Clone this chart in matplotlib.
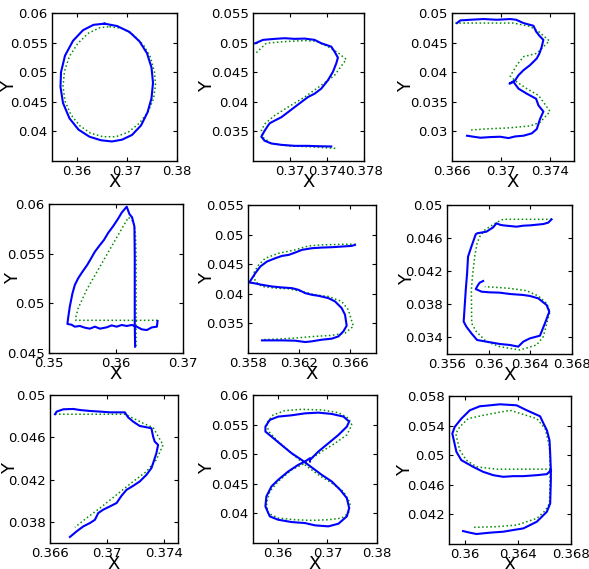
import matplotlib
matplotlib.use('Agg')
import matplotlib.pyplot as plt

# pen trajectories (blue) and fitted templates (green) for each digit

zero_x = [0.3655, 0.3680, 0.3705, 0.3725, 0.3740, 0.3749, 0.3752, 0.3749, 0.3741, 0.3728, 0.3710, 0.3690,
          0.3670, 0.3648, 0.3625, 0.3603, 0.3585, 0.3572, 0.3567, 0.3568, 0.3576, 0.3592, 0.3612, 0.3633, 0.3655]
zero_y = [0.0582, 0.0578, 0.0568, 0.0552, 0.0532, 0.0508, 0.0482, 0.0456, 0.0432, 0.0410, 0.0394, 0.0386,
          0.0383, 0.0385, 0.0391, 0.0403, 0.0422, 0.0448, 0.0475, 0.0500, 0.0528, 0.0553, 0.0571, 0.0580, 0.0582]
zero_fit_x = [0.3665, 0.3690, 0.3713, 0.3733, 0.3747, 0.3755, 0.3757, 0.3753, 0.3742, 0.3725, 0.3703, 0.3678,
              0.3652, 0.3627, 0.3605, 0.3588, 0.3576, 0.3572, 0.3575, 0.3585, 0.3602, 0.3623, 0.3645, 0.3665]
zero_fit_y = [0.0577, 0.0574, 0.0563, 0.0546, 0.0525, 0.0500, 0.0478, 0.0455, 0.0433, 0.0414, 0.0399, 0.0391,
              0.0391, 0.0397, 0.0410, 0.0428, 0.0451, 0.0476, 0.0502, 0.0527, 0.0549, 0.0566, 0.0575, 0.0577]

two_x = [0.36625, 0.36708, 0.36834, 0.36942, 0.3705, 0.37158, 0.37266, 0.37338, 0.37446, 0.37482, 0.37518,
         0.3750, 0.37464, 0.3741, 0.37338, 0.37266, 0.37194, 0.37122, 0.3705, 0.36978, 0.36906, 0.36834,
         0.3678, 0.36762, 0.36726, 0.3669, 0.36726, 0.36798, 0.36906, 0.3705, 0.37194, 0.37302, 0.37446]
two_y = [0.04989, 0.05046, 0.05063, 0.05074, 0.05063, 0.05068, 0.05046, 0.04989, 0.04932, 0.04847, 0.04745,
         0.04648, 0.04506, 0.04364, 0.04222, 0.04137, 0.0408, 0.03995, 0.0391, 0.03824, 0.03739, 0.03682,
         0.03637, 0.03597, 0.03512, 0.0341, 0.03342, 0.03296, 0.03273, 0.03256, 0.03256, 0.0325, 0.03245]
two_fit_x = [0.36636, 0.36744, 0.36942, 0.37158, 0.37284, 0.3741, 0.37518, 0.37608, 0.37482, 0.37338,
             0.37158, 0.36978, 0.36834, 0.36726, 0.3669, 0.36708, 0.36798, 0.36978, 0.3723, 0.37518]
two_fit_y = [0.0483, 0.04989, 0.05017, 0.05034, 0.05023, 0.04932, 0.0483, 0.04716, 0.04449, 0.04279,
             0.0408, 0.0391, 0.03768, 0.03626, 0.03512, 0.03398, 0.03296, 0.03256, 0.03239, 0.03211]

three_x = [0.36641, 0.36668, 0.3675, 0.36859, 0.36968, 0.37077, 0.37126, 0.37186, 0.37268, 0.37289, 0.37317,
           0.37349, 0.37336, 0.37317, 0.37295, 0.3724, 0.37186, 0.37145, 0.37118, 0.37071, 0.37104, 0.37145,
           0.37213, 0.37289, 0.37309, 0.37349, 0.37322, 0.37295, 0.37254, 0.37186, 0.37118, 0.37063, 0.36995,
           0.36913, 0.36832, 0.36777, 0.36723]
three_y = [0.0483, 0.04875, 0.04886, 0.04898, 0.04886, 0.04898, 0.04886, 0.0483, 0.04784, 0.04688, 0.04614,
           0.04546, 0.04432, 0.04318, 0.04233, 0.0412, 0.04034, 0.03949, 0.03864, 0.03807, 0.03836, 0.03722,
           0.03637, 0.03552, 0.03438, 0.03336, 0.03211, 0.0304, 0.02967, 0.02927, 0.02915, 0.02887, 0.0291,
           0.02904, 0.02893, 0.0291, 0.02927]
three_fit_x = [0.36627, 0.36777, 0.37104, 0.3724, 0.37309, 0.37398, 0.37295, 0.37186, 0.37131, 0.37077,
               0.37131, 0.37213, 0.37309, 0.37349, 0.37404, 0.37322, 0.3724, 0.3705, 0.36913, 0.3675]
three_fit_y = [0.0483, 0.0483, 0.0483, 0.04773, 0.04688, 0.04529, 0.04318, 0.04262, 0.0412, 0.03932,
               0.03836, 0.03722, 0.03608, 0.03495, 0.03336, 0.03154, 0.03092, 0.03057, 0.03046, 0.03023]

four_x = [0.3662, 0.3661, 0.36535, 0.3646, 0.36385, 0.3631, 0.36235, 0.3616, 0.36085, 0.3601, 0.35935,
          0.3586, 0.3576, 0.35685, 0.3561, 0.35535, 0.3546, 0.35385, 0.35335, 0.35275,
          0.35285, 0.3531, 0.3535, 0.35385, 0.35435, 0.355, 0.3557, 0.3562, 0.35685, 0.3576, 0.3582,
          0.35885, 0.3596, 0.36035, 0.36085, 0.3616, 0.362, 0.3624, 0.36275, 0.3628, 0.3628, 0.3628, 0.36285]
four_y = [0.04822, 0.04765, 0.04758, 0.04731, 0.04738, 0.04765, 0.04782, 0.04772, 0.04782, 0.04765, 0.04778,
          0.04758, 0.04745, 0.04765, 0.04745, 0.04755, 0.04772, 0.04765, 0.04785, 0.04792,
          0.04849, 0.04966, 0.051, 0.05184, 0.05252, 0.05319, 0.05386, 0.05443, 0.0552, 0.05587, 0.05638,
          0.05711, 0.05779, 0.05856, 0.05913, 0.05973, 0.05899, 0.05866, 0.05772, 0.0547, 0.05134, 0.04799, 0.04564]
four_fit_x = [0.3662, 0.3601, 0.354, 0.354, 0.35435, 0.3556, 0.3576, 0.3596, 0.36185, 0.3626, 0.3629,
              0.363, 0.363, 0.363]
four_fit_y = [0.04829, 0.04829, 0.04829, 0.04859, 0.0495, 0.05134, 0.05369, 0.05604, 0.05866, 0.05822,
              0.05705, 0.0547, 0.05034, 0.04564]

five_x = [0.36636, 0.3661, 0.36532, 0.36454, 0.36377, 0.36299, 0.36221, 0.36169, 0.36117, 0.36065, 0.36013,
          0.35948, 0.35896, 0.35857, 0.3581, 0.35844, 0.35909, 0.35987, 0.36065, 0.36143, 0.36195, 0.36247,
          0.36299, 0.36351, 0.36428, 0.3648, 0.36532, 0.36558, 0.36571, 0.36545, 0.36506, 0.36454, 0.36377,
          0.36299, 0.36247, 0.36169, 0.36065, 0.35987, 0.35909]
five_y = [0.04826, 0.04809, 0.04798, 0.04787, 0.04781, 0.0477, 0.04742, 0.04697, 0.04657, 0.0464, 0.04601,
          0.04545, 0.04461, 0.04348, 0.04191, 0.0418, 0.04152, 0.04124, 0.04107, 0.04096, 0.04067, 0.04011,
          0.03983, 0.03966, 0.03927, 0.03871, 0.03758, 0.03646, 0.03461, 0.03365, 0.0328, 0.03242, 0.03225,
          0.03197, 0.03185, 0.03208, 0.03213, 0.03213, 0.03213]
five_fit_x = [0.36641, 0.36532, 0.36377, 0.36273, 0.36169, 0.36039, 0.35935, 0.35883, 0.35844, 0.35857,
              0.35909, 0.36013, 0.36117, 0.36221, 0.36325, 0.36428, 0.36532, 0.36584, 0.36623, 0.36558,
              0.36454, 0.36325, 0.36169, 0.36039, 0.35909]
five_fit_y = [0.04837, 0.04837, 0.04826, 0.04809, 0.04742, 0.04685, 0.04601, 0.04489, 0.04348, 0.04208,
              0.04124, 0.04096, 0.04084, 0.04039, 0.03983, 0.03955, 0.03871, 0.0373, 0.0345, 0.03337,
              0.03298, 0.03281, 0.03253, 0.03236, 0.03225]

six_x = [0.36604, 0.36572, 0.36524, 0.3646, 0.36396, 0.36332, 0.36267, 0.36203, 0.36139, 0.36107, 0.36075,
         0.36043, 0.35979, 0.35889, 0.35876, 0.35834, 0.35802, 0.35793, 0.3578, 0.3576, 0.35786, 0.35834,
         0.35889, 0.35979, 0.36107, 0.36203, 0.36284, 0.36332, 0.36396, 0.36492, 0.3654, 0.36582, 0.36556,
         0.36476, 0.36396, 0.36332, 0.36203, 0.36107, 0.36011, 0.35931, 0.35876, 0.35898, 0.35914, 0.35947]
six_y = [0.04827, 0.04787, 0.0477, 0.04762, 0.04754, 0.0475, 0.04738, 0.04746, 0.04754, 0.04762, 0.04779,
         0.0473, 0.04678, 0.04658, 0.04646, 0.04497, 0.04376, 0.04174, 0.03973, 0.03591, 0.0353, 0.0345,
         0.03369, 0.03349, 0.03321, 0.03309, 0.03289, 0.03349, 0.03389, 0.03421, 0.0357, 0.03711, 0.03792,
         0.03872, 0.03901, 0.03913, 0.03925, 0.03941, 0.03945, 0.03953, 0.03985, 0.04034, 0.04062, 0.04082]
six_fit_x = [0.36604, 0.36139, 0.36091, 0.36011, 0.35963, 0.35914, 0.35889, 0.35866, 0.35844, 0.35834,
             0.35837, 0.35882, 0.35979, 0.36107, 0.363, 0.3646, 0.36524, 0.36588, 0.36556, 0.36476,
             0.36364, 0.36203, 0.36075, 0.35963]
six_fit_y = [0.04827, 0.04827, 0.04799, 0.04738, 0.04698, 0.04617, 0.04537, 0.04376, 0.04134, 0.03973,
             0.0357, 0.0347, 0.03349, 0.03289, 0.03248, 0.03309, 0.03409, 0.03711, 0.03812, 0.03901,
             0.03965, 0.03993, 0.04005, 0.04013]

seven_x = [0.36635, 0.36647, 0.36694, 0.36764, 0.3681, 0.36881, 0.36951, 0.37021, 0.37091, 0.37126, 0.37149,
           0.37185, 0.37231, 0.37278, 0.37313, 0.37325, 0.37336, 0.3736, 0.37348, 0.37329, 0.37313, 0.37278,
           0.37231, 0.37185, 0.37138, 0.37103, 0.37068, 0.37021, 0.36974, 0.36939, 0.36916, 0.36881, 0.36834,
           0.36787, 0.3674]
seven_y = [0.04818, 0.04843, 0.04865, 0.04868, 0.04858, 0.04849, 0.04843, 0.04836, 0.04836, 0.04836, 0.04789,
           0.04748, 0.04707, 0.04695, 0.04685, 0.04607, 0.0456, 0.04528, 0.04449, 0.04371, 0.04308, 0.04245,
           0.04182, 0.04141, 0.04103, 0.04047, 0.03978, 0.03946, 0.03915, 0.03883, 0.0382, 0.03789, 0.03757,
           0.0371, 0.03657]
seven_fit_x = [0.36635, 0.36857, 0.37126, 0.37185, 0.37255, 0.37325, 0.37395, 0.37348, 0.37278, 0.37185,
               0.37068, 0.36951, 0.36857, 0.36775]
seven_fit_y = [0.04818, 0.04818, 0.04818, 0.0478, 0.04733, 0.04692, 0.04528, 0.04387, 0.04276, 0.04182,
               0.04056, 0.0393, 0.03836, 0.03748]

eight_x = [0.36649, 0.36818, 0.3702, 0.37223, 0.37392, 0.37439, 0.37324, 0.37088, 0.36818, 0.36547, 0.36277,
           0.36007, 0.35838, 0.3575, 0.3575, 0.35872, 0.36074, 0.36277, 0.3648, 0.36615, 0.3675, 0.36885,
           0.37088, 0.37257, 0.37392, 0.37439, 0.37392, 0.37223, 0.3702, 0.3675, 0.36547, 0.36277, 0.36007,
           0.35838, 0.3575, 0.3577, 0.35872, 0.36007, 0.3621, 0.36412, 0.36547, 0.36649, 0.36649]
eight_y = [0.04904, 0.05045, 0.05185, 0.05326, 0.05466, 0.05551, 0.05635, 0.0568, 0.05702, 0.0569, 0.05657,
           0.05635, 0.05579, 0.05466, 0.05382, 0.05298, 0.05157, 0.05017, 0.04904, 0.0482, 0.04736, 0.04652,
           0.04539, 0.04399, 0.04258, 0.0409, 0.0395, 0.03826, 0.03781, 0.03798, 0.03837, 0.03854, 0.03893,
           0.0395, 0.04118, 0.04287, 0.04455, 0.04567, 0.04708, 0.0482, 0.04876, 0.04933, 0.04876]
eight_fit_x = [0.37493, 0.37426, 0.37223, 0.36885, 0.3648, 0.36142, 0.35905, 0.3577, 0.35818, 0.36007,
               0.36277, 0.36547, 0.36818, 0.37088, 0.37324, 0.37459, 0.37426, 0.37291, 0.3702, 0.36682,
               0.36345, 0.36007, 0.35804, 0.3577, 0.35838, 0.36007, 0.36277, 0.36547, 0.36885, 0.37155,
               0.37392, 0.37493]
eight_fit_y = [0.05494, 0.05607, 0.05702, 0.05747, 0.05758, 0.05736, 0.05663, 0.05522, 0.05382, 0.05213,
               0.05017, 0.0482, 0.04652, 0.04511, 0.04371, 0.04174, 0.04006, 0.03921, 0.03893, 0.03882,
               0.03893, 0.03921, 0.04006, 0.04174, 0.04371, 0.04539, 0.04736, 0.04848, 0.05045, 0.05185,
               0.05326, 0.05494]

nine_x = [0.36648, 0.36618, 0.36542, 0.36441, 0.36365, 0.36289, 0.36214, 0.36138, 0.36062, 0.35973, 0.35936,
          0.35905, 0.35923, 0.35973, 0.36037, 0.36112, 0.36188, 0.36264, 0.3639, 0.36466, 0.36567, 0.36593,
          0.36618, 0.36638, 0.36643, 0.36648, 0.36648, 0.36643, 0.36618, 0.36542, 0.36441, 0.36365, 0.36289,
          0.36188, 0.36087, 0.36037, 0.35986]
nine_y = [0.04798, 0.04744, 0.0473, 0.04717, 0.04717, 0.04708, 0.0473, 0.04775, 0.04843, 0.04933, 0.05045,
          0.05292, 0.05382, 0.05494, 0.05607, 0.05661, 0.05674, 0.05688, 0.05674, 0.05607, 0.05526, 0.05427,
          0.05337, 0.05202, 0.05023, 0.04798, 0.04663, 0.04348, 0.04236, 0.04101, 0.04011, 0.03989, 0.03966,
          0.03953, 0.03935, 0.03953, 0.03975]
nine_fit_x = [0.36648, 0.36441, 0.36239, 0.36087, 0.36011, 0.35961, 0.35931, 0.35961, 0.36024, 0.36138,
              0.3634, 0.36542, 0.36605, 0.36638, 0.36643, 0.36638, 0.36605, 0.36542, 0.3639, 0.36239, 0.36062]
nine_fit_y = [0.04811, 0.04811, 0.04811, 0.04843, 0.04933, 0.05067, 0.05292, 0.05382, 0.05494, 0.05539,
              0.05607, 0.05494, 0.0536, 0.05112, 0.04811, 0.04348, 0.0425, 0.04146, 0.04056, 0.04034, 0.04025]

# axis ranges and tick values per panel
x_limits = [(0.355, 0.38), (0.366, 0.378), (0.366, 0.376),
            (0.35, 0.37), (0.358, 0.368), (0.356, 0.368),
            (0.366, 0.375), (0.355, 0.38), (0.3588, 0.368)]
y_limits = [(0.035, 0.06), (0.03, 0.055), (0.025, 0.05),
            (0.045, 0.06), (0.03, 0.055), (0.032, 0.05),
            (0.036, 0.05), (0.035, 0.06), (0.038, 0.058)]
x_ticks = [[0.36, 0.37, 0.38], [0.37, 0.374, 0.378], [0.366, 0.37, 0.374],
           [0.35, 0.36, 0.37], [0.358, 0.362, 0.366], [0.356, 0.36, 0.364, 0.368],
           [0.366, 0.37, 0.374], [0.36, 0.37, 0.38], [0.36, 0.364, 0.368]]
y_ticks = [[0.04, 0.045, 0.05, 0.055, 0.06], [0.035, 0.04, 0.045, 0.05, 0.055],
           [0.03, 0.035, 0.04, 0.045, 0.05], [0.045, 0.05, 0.055, 0.06],
           [0.035, 0.04, 0.045, 0.05, 0.055], [0.034, 0.038, 0.042, 0.046, 0.05],
           [0.038, 0.042, 0.046, 0.05], [0.04, 0.045, 0.05, 0.055, 0.06],
           [0.042, 0.046, 0.05, 0.054, 0.058]]

strokes = [(zero_x, zero_y, zero_fit_x, zero_fit_y),
           (two_x, two_y, two_fit_x, two_fit_y),
           (three_x, three_y, three_fit_x, three_fit_y),
           (four_x, four_y, four_fit_x, four_fit_y),
           (five_x, five_y, five_fit_x, five_fit_y),
           (six_x, six_y, six_fit_x, six_fit_y),
           (seven_x, seven_y, seven_fit_x, seven_fit_y),
           (eight_x, eight_y, eight_fit_x, eight_fit_y),
           (nine_x, nine_y, nine_fit_x, nine_fit_y)]

# axes boxes in pixels: left, top, right, bottom
boxes = [(52, 13, 177, 161), (253, 13, 364, 161), (452, 13, 574, 161),
         (49, 204, 183, 353), (248, 205, 376, 353), (447, 205, 572, 354),
         (50, 395, 178, 543), (253, 395, 377, 543), (449, 396, 571, 544)]
# gap in pixels between the left spine and the "Y" label
ylabel_gap = [34, 37, 37, 27, 32, 31, 31, 37, 35]

W, H = 589, 569
plt.rcParams['font.family'] = ['DejaVu Sans']
fig = plt.figure(figsize=(W / 100, H / 100), dpi=100)

for i, (bx, by, fx, fy) in enumerate(strokes):
    l, t, r, b = boxes[i]
    ax = fig.add_axes([l / W, 1 - b / H, (r - l) / W, (b - t) / H])
    ax.plot(fx, fy, linestyle=':', color='#008c00', linewidth=1.1)
    ax.plot(bx, by, color='#0000ff', linewidth=1.5)
    ax.set_xlim(*x_limits[i])
    ax.set_ylim(*y_limits[i])
    ax.set_xticks(x_ticks[i])
    ax.set_xticklabels(['%g' % v for v in x_ticks[i]])
    ax.set_yticks(y_ticks[i])
    ax.set_yticklabels(['%g' % v for v in y_ticks[i]])
    ax.tick_params(direction='in', top=True, right=True, length=3, width=0.8,
                   labelsize=9.5, pad=3)
    for s in ax.spines.values():
        s.set_linewidth(1.0)
    ax.set_xlabel('X', fontsize=13)
    ax.set_ylabel('Y', fontsize=13)
    ax.xaxis.set_label_coords(0.5, -12 / (b - t))
    ax.yaxis.set_label_coords(-ylabel_gap[i] / (r - l), 0.5)

fig.savefig('out.png', dpi=100)
